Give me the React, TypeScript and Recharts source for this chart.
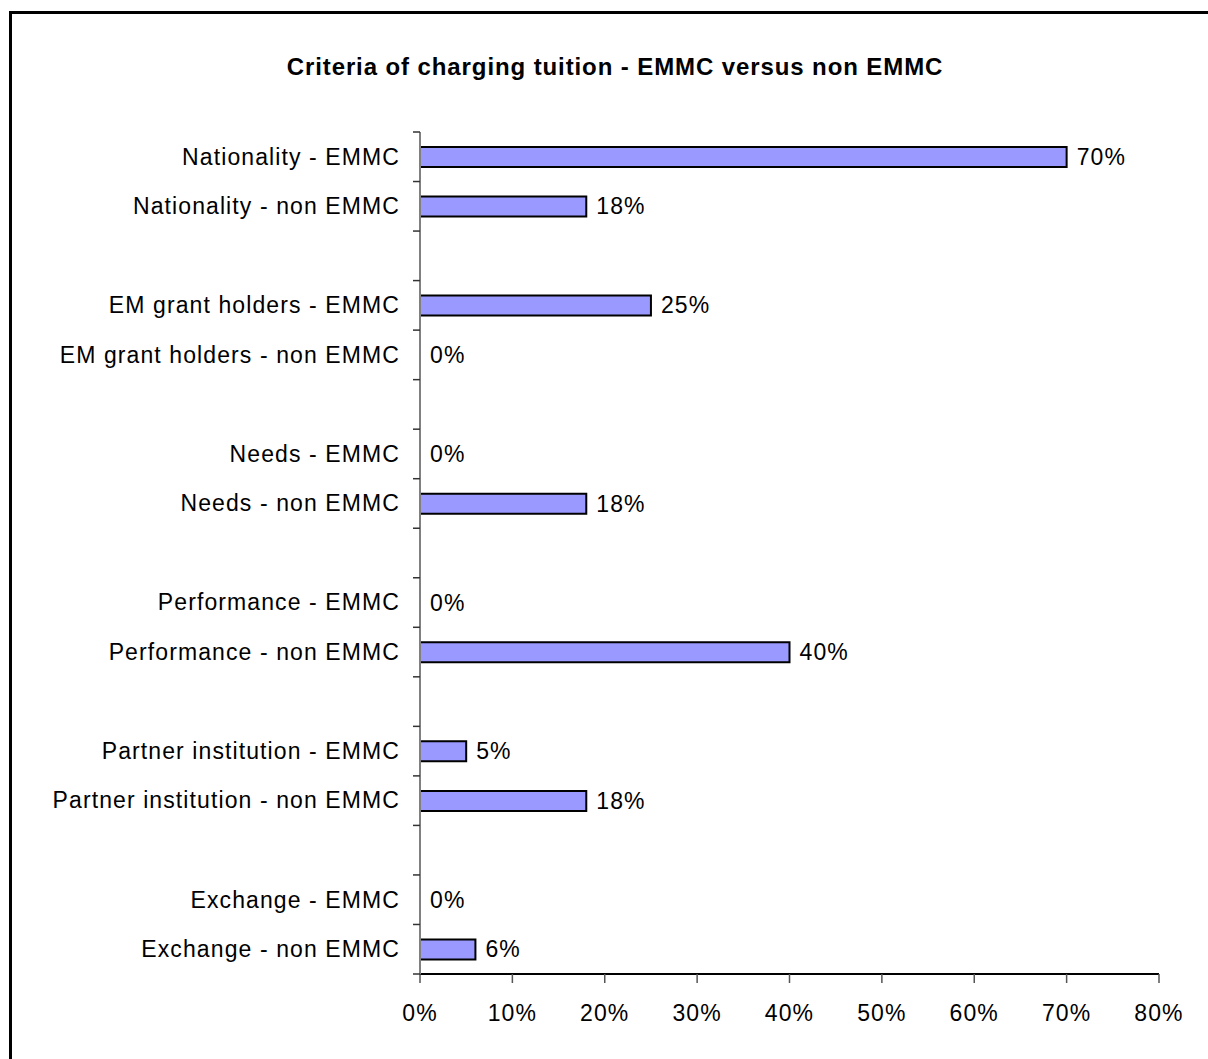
import { BarChart, Bar, XAxis, YAxis, LabelList, Rectangle } from 'recharts';

const categories = [
  'Nationality - EMMC',
  'Nationality - non EMMC',
  '',
  'EM grant holders - EMMC',
  'EM grant holders - non EMMC',
  '',
  'Needs - EMMC',
  'Needs - non EMMC',
  '',
  'Performance - EMMC',
  'Performance - non EMMC',
  '',
  'Partner institution - EMMC',
  'Partner institution - non EMMC',
  '',
  'Exchange - EMMC',
  'Exchange - non EMMC',
];

const shares: (number | null)[] = [70, 18, null, 25, 0, null, 0, 18, null, 0, 40, null, 5, 18, null, 0, 6];

const xTicks = [0, 10, 20, 30, 40, 50, 60, 70, 80];

const title = 'Criteria of charging tuition - EMMC versus non EMMC';

const W = 1208;
const H = 1059;
const TOP = 132;
const BOTTOM = 85;
const LEFT = 420;
const RIGHT = 49;
const FONT = '"Liberation Sans", Arial, sans-serif';
const band = (H - TOP - BOTTOM) / categories.length;

const data = categories.map((name, i) => ({ key: `c${i}`, name, value: shares[i] }));

const YTick = (props: any) => {
  const { y, payload, index } = props;
  const label = categories[payload.value.slice(1) * 1] ?? '';
  return (
    <g>
      <line x1={LEFT - 7} x2={LEFT} y1={y - band / 2} y2={y - band / 2} stroke="#333" strokeWidth={1.5} />
      {index === categories.length - 1 && (
        <line x1={LEFT - 7} x2={LEFT} y1={y + band / 2} y2={y + band / 2} stroke="#333" strokeWidth={1.5} />
      )}
      <text
        x={LEFT - 20}
        y={y}
        dy="0.34em"
        textAnchor="end"
        fontSize={23}
        letterSpacing={1.1}
        fontFamily={FONT}
        fill="#000"
      >
        {label}
      </text>
    </g>
  );
};

const BarShape = (props: any) => {
  const v = props.payload?.value;
  if (v === null || v === undefined || v <= 0) return null;
  return <Rectangle {...props} />;
};

const ValueLabel = (props: any) => {
  const { x, y, height, value } = props;
  if (value === null || value === undefined) return null;
  const w = Number(value) === 0 ? 0 : props.width;
  return (
    <text
      x={x + w + 10}
      y={y + height / 2}
      dy="0.34em"
      fontSize={23}
      letterSpacing={1.1}
      fontFamily={FONT}
      fill="#000"
    >
      {`${value}%`}
    </text>
  );
};

export default function App() {
  return (
    <div style={{ position: 'fixed', left: 0, top: 0, width: W, height: H, overflow: 'hidden', background: '#fff' }}>
      <div
        style={{
          position: 'absolute',
          left: 9,
          top: 11,
          width: W + 40,
          height: H + 40,
          border: '3px solid #000',
        }}
      />
      <svg width={W} height={H} style={{ position: 'absolute', left: 0, top: 0 }}>
        <text
          x={615}
          y={74.5}
          textAnchor="middle"
          fontSize={24}
          fontWeight="bold"
          letterSpacing={0.9}
          fontFamily={FONT}
          fill="#000"
        >
          {title}
        </text>
      </svg>
      <div style={{ position: 'absolute', left: 0, top: 0 }}>
        <BarChart
          width={W}
          height={H}
          data={data}
          layout="vertical"
          margin={{ top: TOP, right: RIGHT, bottom: 0, left: 0 }}
          barCategoryGap={0}
        >
          <XAxis
            type="number"
            domain={[0, 80]}
            ticks={xTicks}
            height={BOTTOM}
            tickFormatter={(v: number) => `${v}%`}
            axisLine={{ stroke: '#000', strokeWidth: 2 }}
            tickLine={{ stroke: '#555', strokeWidth: 1.5 }}
            tickSize={9}
            tickMargin={22}
            tick={{ fontSize: 23, fill: '#000', fontFamily: FONT, letterSpacing: 1.1 }}
            interval={0}
          />
          <YAxis
            type="category"
            dataKey="key"
            width={LEFT}
            axisLine={{ stroke: '#808080', strokeWidth: 2 }}
            tickLine={false}
            tickSize={0}
            tick={<YTick />}
            interval={0}
          />
          <Bar
            dataKey="value"
            fill="#9999FF"
            stroke="#000"
            strokeWidth={2}
            barSize={20}
            minPointSize={0.01}
            shape={<BarShape />}
            isAnimationActive={false}
          >
            <LabelList dataKey="value" content={<ValueLabel />} />
          </Bar>
        </BarChart>
      </div>
    </div>
  );
}
